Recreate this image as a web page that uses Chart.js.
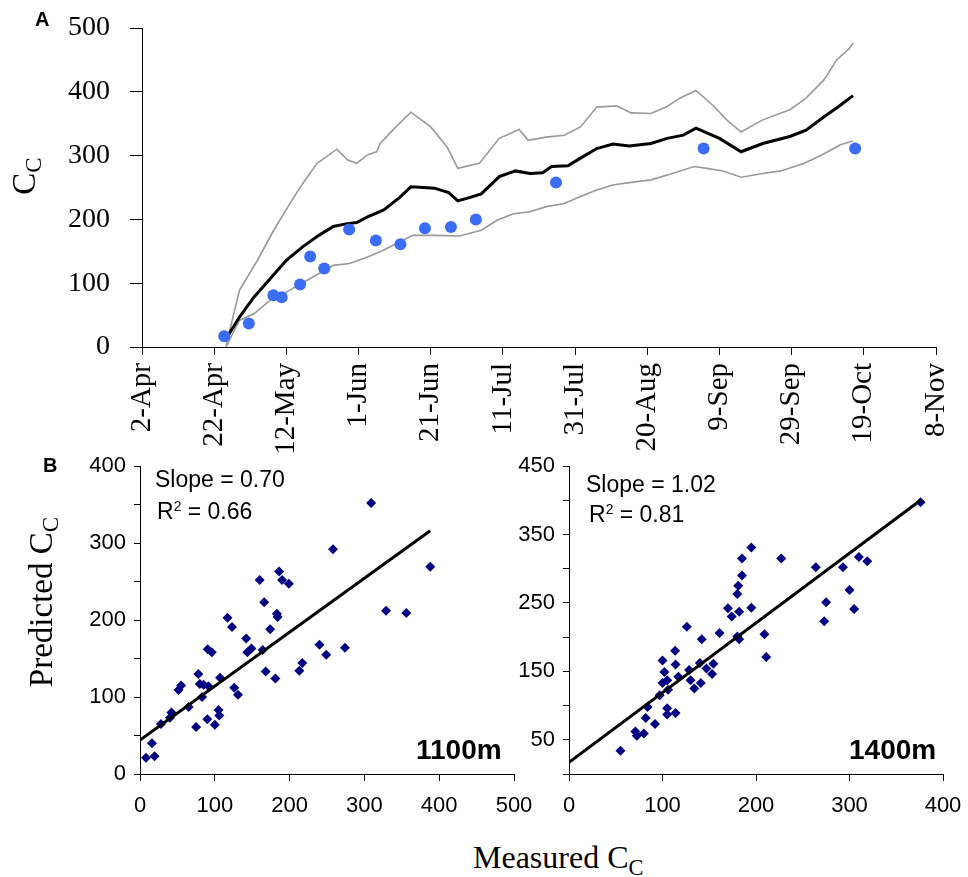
<!DOCTYPE html>
<html lang="en">
<head>
  <meta charset="UTF-8" />
  <title>Cc time course and predicted vs measured</title>
  <script src="https://cdn.jsdelivr.net/npm/chart.js"></script>
  <style>
    body { margin: 0; background: #fff; }
    #fig { position: relative; width: 968px; height: 877px; overflow: hidden; background: #fff; }
    #fig canvas { position: absolute; }
    .txt { position: absolute; white-space: nowrap; line-height: 1; color: #000; }
    .serif { font-family: 'Liberation Serif', 'Times New Roman', serif; }
    .sans { font-family: 'Liberation Sans', Arial, sans-serif; }
    .rot { transform: translate(-50%, -50%) rotate(-90deg); }
    sub { font-size: 0.7em; vertical-align: -0.3em; line-height: 0; }
    sup { font-size: 0.6em; vertical-align: 0.55em; line-height: 0; }
  </style>
</head>
<body>
  <div id="fig">
    <canvas id="chartB1" width="545" height="380" style="left:0;top:450px;width:545px;height:380px"></canvas>
    <canvas id="chartB2" width="468" height="380" style="left:500px;top:450px;width:468px;height:380px"></canvas>
    <canvas id="chartA" width="968" height="465" style="left:0;top:0;width:968px;height:465px"></canvas>

    <div class="txt sans" style="left:35px;top:9px;font-size:20px;font-weight:bold">A</div>
    <div class="txt sans" style="left:43px;top:455px;font-size:20px;font-weight:bold">B</div>

    <div class="txt serif rot" style="left:24px;top:176px;font-size:33px">C<sub>C</sub></div>
    <div class="txt serif rot" style="left:41px;top:602px;font-size:33px">Predicted C<sub>C</sub></div>
    <div class="txt serif" style="left:473px;top:841px;font-size:32px">Measured C<sub>C</sub></div>

    <div class="txt sans" style="left:155px;top:468px;font-size:23px">Slope = 0.70</div>
    <div class="txt sans" style="left:157px;top:500px;font-size:23px">R<sup>2</sup> = 0.66</div>
    <div class="txt sans" style="left:416px;top:736px;font-size:28px;font-weight:bold">1100m</div>

    <div class="txt sans" style="left:586px;top:473px;font-size:23px">Slope = 1.02</div>
    <div class="txt sans" style="left:589px;top:503px;font-size:23px">R<sup>2</sup> = 0.81</div>
    <div class="txt sans" style="left:849px;top:736px;font-size:28px;font-weight:bold">1400m</div>
  </div>

  <script>
    // panel A: x is days after 2-Apr
    const dateLabels = ['2-Apr', '22-Apr', '12-May', '1-Jun', '21-Jun', '11-Jul', '31-Jul', '20-Aug', '9-Sep', '29-Sep', '19-Oct', '8-Nov'];

    const meanDay = [23, 27, 31, 35.5, 40, 44.5, 49, 53, 56.5, 59.5, 62.5, 67, 71.5, 74.5, 78, 81, 85, 87.5, 90, 94, 99, 103.5, 107.5, 111, 113.5, 118, 121.5, 126, 130.5, 135, 141, 145.5, 150, 153.5, 160, 166, 172, 179.5, 184, 189, 193.5, 197];
    const meanCc = [10, 47, 78, 107, 136, 157, 175, 189, 193, 195, 204, 215, 235, 251, 250, 249, 242, 229, 233, 240, 267, 276, 272, 273, 283, 284, 296, 311, 318, 315, 319, 327, 332, 343, 327, 306, 319, 330, 340, 361, 379, 394];

    const upperDay = [23.3, 27, 32, 36.5, 41, 44.5, 48.5, 54, 57, 59.5, 62.5, 65, 66, 70, 74.5, 80, 84.5, 87.5, 93.5, 99, 104.5, 107, 112, 117, 121.5, 126, 131.5, 135.5, 141, 145.5, 149, 153.5, 158.5, 162, 166, 172, 179.5, 184, 189, 192.5, 196, 197];
    const upperCc = [2, 89, 136, 183, 225, 256, 288, 310, 293, 288, 301, 306, 319, 343, 368, 345, 314, 280, 288, 327, 341, 324, 329, 332, 345, 376, 378, 367, 366, 377, 390, 402, 377, 356, 337, 356, 372, 390, 419, 450, 468, 476];

    const lowerDay = [23.3, 27, 31, 36.5, 40, 46.5, 53, 57.5, 62.5, 67, 71.5, 75, 81, 88, 94, 98.5, 103, 107.5, 112, 117, 121.5, 126, 130.5, 135.5, 141, 146.5, 153, 156.5, 161, 166, 172, 177, 183.5, 189, 193.5, 197];
    const lowerCc = [0, 42, 52, 78, 86, 107, 128, 131, 141, 152, 165, 175, 175, 174, 183, 199, 209, 212, 220, 225, 236, 246, 254, 258, 262, 271, 283, 280, 276, 266, 272, 276, 288, 303, 317, 323];

    const obsDay = [22.8, 29.6, 36.4, 38.7, 43.8, 46.6, 50.5, 57.4, 64.8, 71.6, 78.4, 85.6, 92.5, 114.7, 155.6, 197.6];
    const obsCc = [17, 37, 81, 78, 98, 142, 123, 184, 167, 161, 186, 188, 200, 258, 311, 311];

    // panel B, 1100m
    const meas1100 = [8, 19.5, 16, 28, 40, 42, 51.5, 55, 65, 75, 78, 80, 83, 85, 90, 91.5, 90.5, 96, 100, 105, 106, 107, 117, 123, 126, 131, 142, 143.5, 149, 160, 164, 166, 168, 174, 181, 183, 184, 186, 190, 199, 213, 217, 240, 249, 258, 274, 309, 329, 356, 388];
    const pred1100 = [21, 23, 40, 65, 73, 80, 109, 115, 87, 61, 130, 117, 100, 116, 71, 114, 162, 158, 64, 83, 76, 125, 203, 191, 112, 103, 176, 158, 163, 252, 161, 223, 133, 188, 124, 208, 204, 263, 252, 247, 134, 144, 168, 155, 292, 164, 352, 212, 209, 269];
    const fit1100X = [0, 388];
    const fit1100Y = [44, 316];

    // panel B, 1400m
    const meas1400 = [55, 71, 72.5, 80, 82, 84, 92, 97, 100, 102, 100, 105, 106, 105, 105, 114, 113.5, 114, 117, 126, 128.5, 130, 134, 140, 142, 141, 147, 153, 154.5, 161, 170, 174, 180, 181, 182, 182, 180, 185, 185, 195, 195, 209, 211, 227, 264, 273, 275, 293, 300, 305, 310, 319, 376];
    const pred1400 = [34, 62, 56, 59, 82, 98, 73, 115, 166, 149, 133, 137, 123, 96, 87, 89, 180, 160, 142, 215, 152, 137, 125, 162, 197, 133, 154, 146, 161, 206, 242, 230, 263, 275, 237, 197, 201, 290, 315, 331, 243, 204, 171, 315, 302, 223, 251, 302, 269, 241, 317, 311, 397];
    const fit1400X = [0, 376];
    const fit1400Y = [17, 400];

    const toXY = (xs, ys) => xs.map((x, i) => ({ x: x, y: ys[i] }));

    const sansTick = { family: 'Liberation Sans', size: 22 };

    // fixed axis sizes, and no extra padding from the labels
    function fixSize(w, h) {
      return s => {
        if (w != null) s.width = w;
        if (h != null) s.height = h;
        s.paddingLeft = s.paddingRight = s.paddingTop = s.paddingBottom = 0;
      };
    }

    function axis(opts) {
      return Object.assign({
        type: 'linear',
        border: { display: true, color: '#000', width: 1 },
        grid: { drawOnChartArea: false, drawTicks: true, color: '#000', lineWidth: 1 }
      }, opts);
    }

    new Chart(document.getElementById('chartA'), {
      type: 'line',
      data: {
        datasets: [
          {
            data: toXY(obsDay, obsCc), showLine: false, order: 0,
            pointRadius: 6, pointHoverRadius: 6, pointBackgroundColor: '#3b6cf6', pointBorderWidth: 0
          },
          { data: toXY(meanDay, meanCc), borderColor: '#000', borderWidth: 3, pointRadius: 0, order: 1 },
          { data: toXY(upperDay, upperCc), borderColor: '#999', borderWidth: 1.6, pointRadius: 0, order: 2 },
          { data: toXY(lowerDay, lowerCc), borderColor: '#999', borderWidth: 1.6, pointRadius: 0, order: 2 }
        ]
      },
      options: {
        responsive: false, animation: false,
        layout: { autoPadding: false, padding: { top: 28, right: 32, left: 0, bottom: 0 } },
        plugins: { legend: { display: false }, tooltip: { enabled: false } },
        elements: { line: { tension: 0 } },
        scales: {
          x: axis({
            min: 0, max: 220,
            afterFit: fixSize(null, 118),
            grid: { drawOnChartArea: false, color: '#000', tickLength: 8 },
            ticks: {
              stepSize: 20, autoSkip: false, minRotation: 90, maxRotation: 90, padding: 8,
              color: '#000', font: { family: 'Liberation Serif', size: 29 },
              callback: v => dateLabels[Math.round(v / 20)]
            }
          }),
          y: axis({
            min: 0, max: 500,
            afterFit: fixSize(142, null),
            grid: { drawOnChartArea: false, color: '#000', tickLength: 12 },
            ticks: {
              stepSize: 50, padding: 20, color: '#000', font: { family: 'Liberation Serif', size: 28 },
              callback: v => (v % 100 === 0 ? v : '')
            }
          })
        }
      }
    });

    function scatterChart(id, xs, ys, fx, fy, xMax, yMax, yLabel) {
      new Chart(document.getElementById(id), {
        type: 'scatter',
        data: {
          datasets: [
            {
              data: toXY(xs, ys), order: 1, pointStyle: 'rectRot',
              pointRadius: 5, pointHoverRadius: 5, pointBackgroundColor: '#000080', pointBorderWidth: 0
            },
            {
              type: 'line', data: toXY(fx, fy), order: 0,
              borderColor: '#000', borderWidth: 3, pointRadius: 0
            }
          ]
        },
        options: {
          responsive: false, animation: false,
          layout: {
            autoPadding: false,
            padding: id === 'chartB1' ? { top: 16, right: 31, left: 0, bottom: 0 } : { top: 16, right: 25, left: 0, bottom: 0 }
          },
          plugins: { legend: { display: false }, tooltip: { enabled: false } },
          scales: {
            x: axis({
              min: 0, max: xMax,
              afterFit: fixSize(null, 56),
              grid: { drawOnChartArea: false, color: '#000', tickLength: 7 },
              ticks: { stepSize: 100, padding: 12, maxRotation: 0, color: '#000', font: sansTick }
            }),
            y: axis({
              min: 0, max: yMax,
              afterFit: fixSize(id === 'chartB1' ? 140 : 69, null),
              grid: { drawOnChartArea: false, color: '#000', tickLength: 6 },
              ticks: { stepSize: 50, padding: 8, color: '#000', font: sansTick, callback: yLabel }
            })
          }
        }
      });
    }

    scatterChart('chartB1', meas1100, pred1100, fit1100X, fit1100Y, 500, 400, v => (v % 100 === 0 ? v : ''));
    scatterChart('chartB2', meas1400, pred1400, fit1400X, fit1400Y, 400, 450, v => (v % 100 === 50 ? v : ''));
  </script>
</body>
</html>
